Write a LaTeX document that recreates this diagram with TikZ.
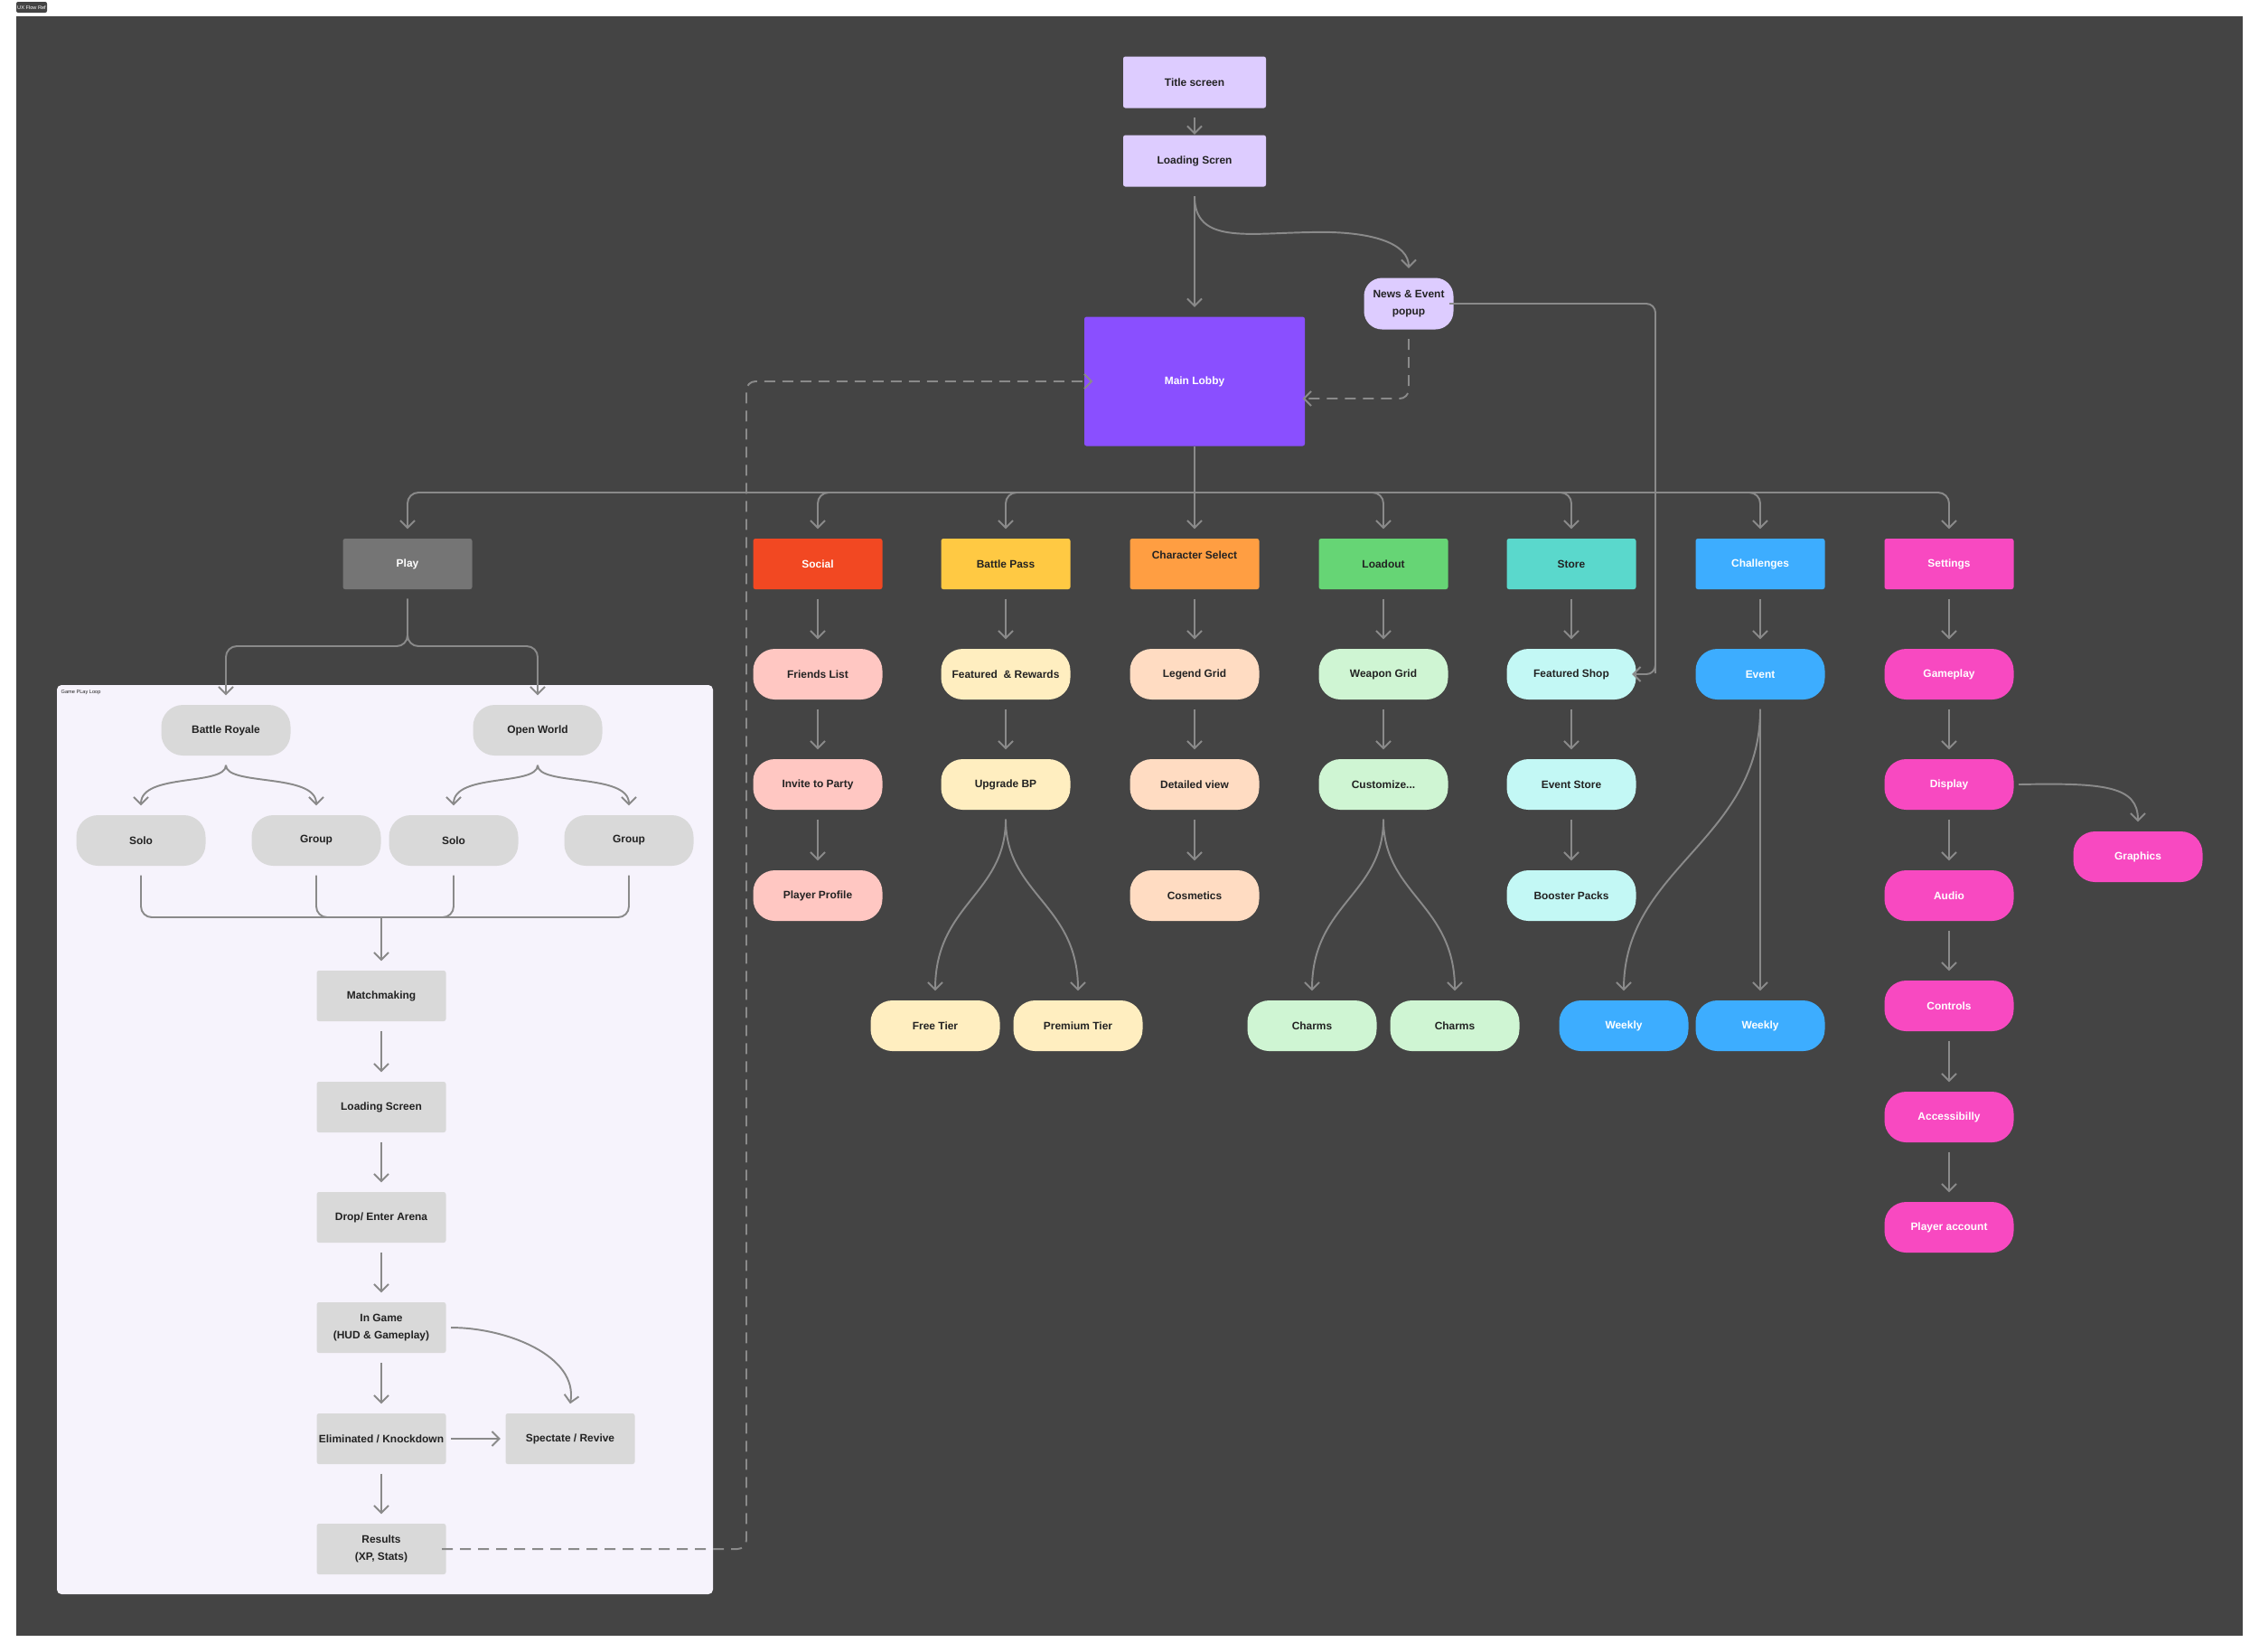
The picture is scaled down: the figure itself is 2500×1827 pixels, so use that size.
\documentclass[tikz,border=0pt]{standalone}
\usepackage{fontspec}
\setmainfont{Liberation Sans}
\usetikzlibrary{arrows.meta}
\definecolor{bg}{HTML}{444444}
\definecolor{ln}{HTML}{8A8A8A}
\definecolor{lav}{HTML}{DDCCFF}
\definecolor{purp}{HTML}{8A4FFF}
\definecolor{panel}{HTML}{F6F3FC}
\definecolor{gr}{HTML}{D9D9D9}
\definecolor{playc}{HTML}{757575}
\definecolor{socc}{HTML}{F24822}\definecolor{socl}{HTML}{FFC7C2}
\definecolor{bpc}{HTML}{FFC943}\definecolor{bpl}{HTML}{FFEEC0}
\definecolor{chc}{HTML}{FF9E42}\definecolor{chl}{HTML}{FFDCC2}
\definecolor{loc}{HTML}{66D575}\definecolor{lol}{HTML}{CFF5D3}
\definecolor{stc}{HTML}{5AD8CC}\definecolor{stl}{HTML}{C3F8F5}
\definecolor{blu}{HTML}{3DADFF}
\definecolor{pnk}{HTML}{F849C1}
\definecolor{txt}{HTML}{222222}
\tikzset{
 base/.style={minimum width=14.3mm,minimum height=5.6mm,inner sep=0pt,align=center,font=\fontsize{3.4}{4.2}\selectfont\bfseries,text=txt},
 sq/.style={base,rounded corners=0.25mm},
 rd/.style={base,rounded corners=2.4mm},
 w/.style={text=white},
 con/.style={draw=ln,line width=0.55pt,-{Straight Barb[length=0.8mm,width=1.6mm,line width=0.55pt]}},
 pl/.style={draw=ln,line width=0.55pt},
 dsh/.style={con,dash pattern=on 1.2mm off 0.8mm},
}
\begin{document}
\begin{tikzpicture}[x=0.1mm,y=-0.1mm]
\useasboundingbox (0,0) rectangle (2500,1827);
\fill[white] (0,0) rectangle (2500,1827);
\fill[bg] (18,18) rectangle (2482,1810);
\node[fill=bg,rounded corners=0.2mm,text=white,font=\fontsize{1.6}{2}\selectfont,minimum width=3.4mm,minimum height=1.2mm,inner sep=0pt] (tag) at (35,8) {UX Flow Ref};
\fill[panel,rounded corners=0.5mm] (63,758) rectangle (789,1764);
\node[anchor=north west,font=\fontsize{1.6}{2}\selectfont,text=txt,inner sep=0pt] (gpl) at (67,763) {Game PLay Loop};
% top
\node[sq,fill=lav,minimum width=15.8mm,minimum height=5.7mm] (title) at (1322,91) {Title screen};
\node[sq,fill=lav,minimum width=15.8mm,minimum height=5.7mm] (load) at (1322,178) {Loading Scren};
\node[sq,fill=purp,w,minimum width=24.4mm,minimum height=14.3mm] (lobby) at (1322,422) {Main Lobby};
\node[rd,fill=lav,minimum width=9.9mm,minimum height=5.7mm,rounded corners=2mm] (news) at (1559,336) {News \& Event\\[0.4mm]popup};
% categories
\node[sq,fill=playc,w] (play) at (451,624) {Play};
\node[sq,fill=socc,w] (soc) at (905,624) {Social};
\node[sq,fill=bpc] (bp) at (1113,624) {Battle Pass};
\node[sq,fill=chc,text depth=2mm] (ch) at (1322,624) {Character Select};
\node[sq,fill=loc] (lo) at (1531,624) {Loadout};
\node[sq,fill=stc] (st) at (1739,624) {Store};
\node[sq,fill=blu,w] (chal) at (1948,624) {Challenges};
\node[sq,fill=pnk,w] (set) at (2157,624) {Settings};
% row 2
\node[rd,fill=socl] (s1) at (905,746) {Friends List};
\node[rd,fill=socl] (s2) at (905,868) {Invite to Party};
\node[rd,fill=socl] (s3) at (905,991) {Player Profile};
\node[rd,fill=bpl] (b1) at (1113,746) {Featured\ \ \& Rewards};
\node[rd,fill=bpl] (b2) at (1113,868) {Upgrade BP};
\node[rd,fill=bpl] (b3) at (1035,1135) {Free Tier};
\node[rd,fill=bpl] (b4) at (1193,1135) {Premium Tier};
\node[rd,fill=chl] (c1) at (1322,746) {Legend Grid};
\node[rd,fill=chl] (c2) at (1322,868) {Detailed view};
\node[rd,fill=chl] (c3) at (1322,991) {Cosmetics};
\node[rd,fill=lol] (l1) at (1531,746) {Weapon Grid};
\node[rd,fill=lol] (l2) at (1531,868) {Customize...};
\node[rd,fill=lol] (l3) at (1452,1135) {Charms};
\node[rd,fill=lol] (l4) at (1610,1135) {Charms};
\node[rd,fill=stl] (t1) at (1739,746) {Featured Shop};
\node[rd,fill=stl] (t2) at (1739,868) {Event Store};
\node[rd,fill=stl] (t3) at (1739,991) {Booster Packs};
\node[rd,fill=blu,w] (e1) at (1948,746) {Event};
\node[rd,fill=blu,w] (e2) at (1797,1135) {Weekly};
\node[rd,fill=blu,w] (e3) at (1948,1135) {Weekly};
\node[rd,fill=pnk,w] (g1) at (2157,746) {Gameplay};
\node[rd,fill=pnk,w] (g2) at (2157,868) {Display};
\node[rd,fill=pnk,w] (g3) at (2157,991) {Audio};
\node[rd,fill=pnk,w] (g4) at (2157,1113) {Controls};
\node[rd,fill=pnk,w] (g5) at (2157,1236) {Accessibilly};
\node[rd,fill=pnk,w] (g6) at (2157,1358) {Player account};
\node[rd,fill=pnk,w] (g7) at (2366,948) {Graphics};
% game loop
\node[rd,fill=gr] (br) at (250,808) {Battle Royale};
\node[rd,fill=gr] (ow) at (595,808) {Open World};
\node[rd,fill=gr] (so1) at (156,930) {Solo};
\node[rd,fill=gr] (gr1) at (350,930) {Group};
\node[rd,fill=gr] (so2) at (502,930) {Solo};
\node[rd,fill=gr] (gr2) at (696,930) {Group};
\node[sq,fill=gr] (mm) at (422,1102) {Matchmaking};
\node[sq,fill=gr] (ls) at (422,1225) {Loading Screen};
\node[sq,fill=gr] (drop) at (422,1347) {Drop/ Enter Arena};
\node[sq,fill=gr] (ig) at (422,1469) {In Game\\[0.4mm](HUD \& Gameplay)};
\node[sq,fill=gr] (el) at (422,1592) {Eliminated / Knockdown};
\node[sq,fill=gr] (sp) at (631,1592) {Spectate / Revive};
\node[sq,fill=gr] (res) at (422,1714) {Results\\[0.4mm](XP, Stats)};
\coordinate (hub) at (1322,545);
% top connectors
\draw[con] ([yshift=-1mm]title.south) -- (load.north);
\draw[con] ([yshift=-1mm]load.south) -- ([yshift=1mm]lobby.north);
\draw[con] ([yshift=-1mm]load.south) .. controls (1322,270) and (1380,258) .. (1450,257) .. controls (1520,255) and (1559,270) .. ([yshift=1mm]news.north);
\draw[dsh,rounded corners=1mm] ([yshift=-1mm]news.south) |- ([xshift=-0.3mm]lobby.east |- 0,441);
\draw[con,rounded corners=1mm] ([xshift=-0.5mm]news.east) -| (1832,735) -- (1832,746) -- ([xshift=-0.5mm]t1.east);
\draw[dsh,rounded corners=1mm] ([xshift=-0.5mm]res.east) -| (826,422) -- ([xshift=1mm]lobby.west);
% bus
\draw[pl] (lobby.south) -- (hub);
\foreach \n in {play,soc,bp,lo,st,chal,set}{
 \draw[con,rounded corners=1.2mm] (hub) -| ([yshift=1mm]\n.north);}
\draw[con] (hub) -- ([yshift=1mm]ch.north);
% columns
\foreach \a/\b in {soc/s1,s1/s2,s2/s3,bp/b1,b1/b2,ch/c1,c1/c2,c2/c3,lo/l1,l1/l2,st/t1,t1/t2,t2/t3,chal/e1,set/g1,g1/g2,g2/g3,g3/g4,g4/g5,g5/g6}{
 \draw[con] ([yshift=-1mm]\a.south) -- ([yshift=1mm]\b.north);}
\draw[con] ([yshift=-1mm]b2.south) .. controls (1113,990) and (1035,1000) .. ([yshift=1mm]b3.north);
\draw[con] ([yshift=-1mm]b2.south) .. controls (1113,990) and (1193,1000) .. ([yshift=1mm]b4.north);
\draw[con] ([yshift=-1mm]l2.south) .. controls (1531,990) and (1452,1000) .. ([yshift=1mm]l3.north);
\draw[con] ([yshift=-1mm]l2.south) .. controls (1531,990) and (1610,1000) .. ([yshift=1mm]l4.north);
\draw[con] ([yshift=-1mm]e1.south) .. controls (1948,930) and (1797,960) .. ([yshift=1mm]e2.north);
\draw[con] ([yshift=-1mm]e1.south) -- ([yshift=1mm]e3.north);
\draw[con] ([xshift=0.5mm]g2.east) .. controls (2330,866) and (2366,870) .. ([yshift=1mm]g7.north);
% game loop connectors
\draw[con,rounded corners=1.2mm] ([yshift=-1mm]play.south) -- (451,715) -| ([yshift=1mm]br.north);
\draw[con,rounded corners=1.2mm] ([yshift=-1mm]play.south) -- (451,715) -| ([yshift=1mm]ow.north);
\draw[con] ([yshift=-1mm]br.south) .. controls (250,870) and (156,855) .. ([yshift=1mm]so1.north);
\draw[con] ([yshift=-1mm]br.south) .. controls (250,870) and (350,855) .. ([yshift=1mm]gr1.north);
\draw[con] ([yshift=-1mm]ow.south) .. controls (595,870) and (502,855) .. ([yshift=1mm]so2.north);
\draw[con] ([yshift=-1mm]ow.south) .. controls (595,870) and (696,855) .. ([yshift=1mm]gr2.north);
\foreach \n in {so1,gr1,so2,gr2}{
 \draw[pl,rounded corners=1.2mm] ([yshift=-1mm]\n.south) |- (422,1015);}
\draw[con] (422,1015) -- ([yshift=1mm]mm.north);
\foreach \a/\b in {mm/ls,ls/drop,drop/ig,ig/el,el/res}{
 \draw[con] ([yshift=-1mm]\a.south) -- ([yshift=1mm]\b.north);}
\draw[con] ([xshift=0.5mm]el.east) -- ([xshift=-0.5mm]sp.west);
\draw[con] ([xshift=0.5mm]ig.east) .. controls (560,1469) and (640,1500) .. ([yshift=1mm]sp.north);
\end{tikzpicture}
\end{document}
